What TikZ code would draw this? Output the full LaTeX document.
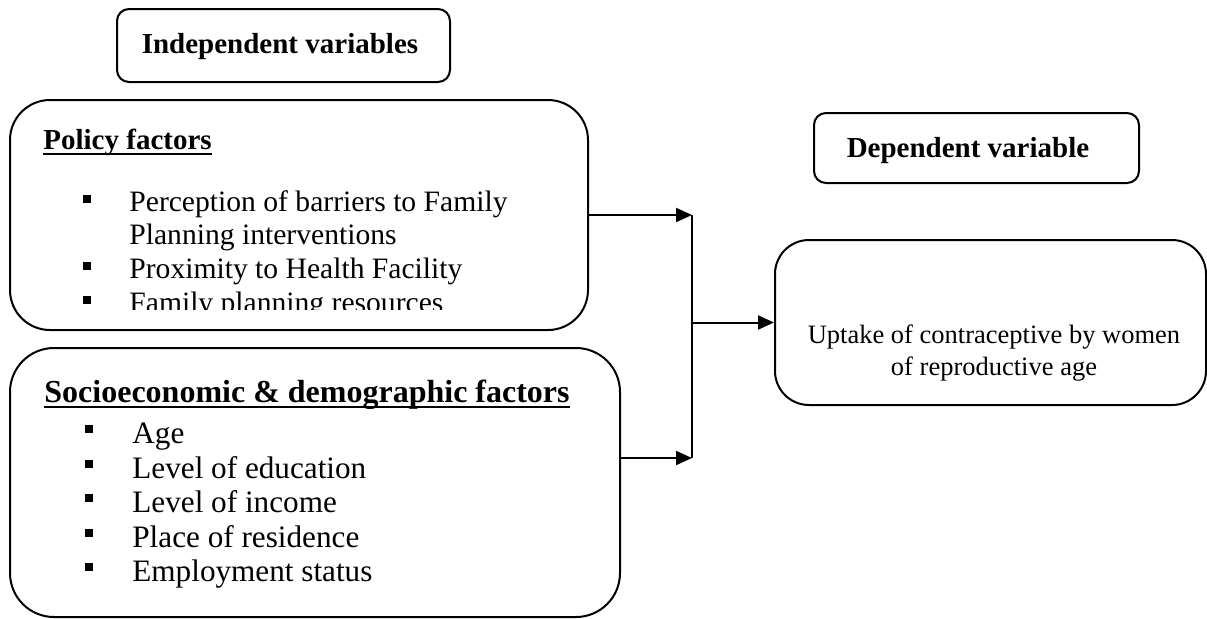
\documentclass[tikz,border=0pt]{standalone}
\usepackage{fontspec}
\setmainfont{Liberation Serif}
\usetikzlibrary{arrows.meta}

\newsavebox\undlbox
\newcommand{\undl}[1]{\sbox\undlbox{#1}\rlap{\rule[-3pt]{\wd\undlbox}{1pt}}\usebox\undlbox}
\newcommand{\sqb}[2]{\makebox[#1][l]{\rule[#2]{4pt}{4pt}}}

\begin{document}
\begin{tikzpicture}[x=0.5pt,y=-0.5pt,
          box/.style={draw,line width=1pt,rectangle,inner sep=0pt},
          link/.style={line width=1pt,-{Triangle[length=8pt,width=7pt]}},
          head/.style={anchor=base west,inner sep=0pt,font=\bfseries\fontsize{14.5pt}{17pt}\selectfont},
          pitem/.style={anchor=base west,inner sep=0pt,font=\fontsize{14.8pt}{17pt}\selectfont},
          sitem/.style={anchor=base west,inner sep=0pt,font=\fontsize{15.6pt}{18pt}\selectfont},
          uptxt/.style={anchor=base,inner sep=0pt,font=\fontsize{13.25pt}{16pt}\selectfont},
        ]
        \useasboundingbox (0,0) rectangle (1207,618);

        \node[box,rounded corners=6pt,minimum width=166.5pt,minimum height=36.5pt] (indep) at (283.5,45.5) {};
        \node[box,rounded corners=20pt,minimum width=289pt,minimum height=115pt] (policy) at (299,215) {};
        \node[box,rounded corners=22pt,minimum width=305pt,minimum height=134.5pt] (socio) at (315,482.5) {};
        \node[box,rounded corners=6pt,minimum width=162.5pt,minimum height=35pt] (dep) at (976.5,148) {};
        \node[box,rounded corners=17pt,minimum width=215.5pt,minimum height=82.5pt] (uptake) at (990.5,322.5) {};

        \node[head,anchor=base] (indeptxt) at (280,53) {Independent variables};
        \node[head,anchor=base] (deptxt) at (968,157) {Dependent variable};

        % policy factors
        \node[head] (poltitle) at (43,149) {\undl{Policy factors}};
        \node[pitem] (pol1) at (83,211) {\sqb{23pt}{4pt}Perception of barriers to Family};
        \node[pitem] (pol1b) at (129,244) {Planning interventions};
        \node[pitem] (pol2) at (83,278) {\sqb{23pt}{4pt}Proximity to Health Facility};
        \begin{scope}
          \clip (0,0) rectangle (600,309);
          \node[pitem] (pol3) at (83,312) {\sqb{23pt}{4pt}Family planning resources};
        \end{scope}

        % socioeconomic factors
        \node[head,font=\bfseries\fontsize{16pt}{19pt}\selectfont] (soctitle) at (44,402) {\undl{Socioeconomic \& demographic factors}};
        \node[sitem] (soc1) at (85,443) {\sqb{23.5pt}{5pt}Age};
        \node[sitem] (soc2) at (85,478) {\sqb{23.5pt}{5pt}Level of education};
        \node[sitem] (soc3) at (85,512) {\sqb{23.5pt}{5pt}Level of income};
        \node[sitem] (soc4) at (85,547) {\sqb{23.5pt}{5pt}Place of residence};
        \node[sitem] (soc5) at (85,581) {\sqb{23.5pt}{5pt}Employment status};

        \node[uptxt] (up1) at (994,343) {Uptake of contraceptive by women};
        \node[uptxt] (up2) at (994,375) {of reproductive age};

        \coordinate (jtop) at (692,215);
        \coordinate (jbot) at (692,458);
        \draw[link] (policy.east) -- (jtop);
        \draw[link] (socio.east |- jbot) -- (jbot);
        \draw[line width=1pt] (jtop) -- (jbot);
        \draw[link] (jtop |- uptake.west) -- (uptake.west);

      \end{tikzpicture}
\end{document}
